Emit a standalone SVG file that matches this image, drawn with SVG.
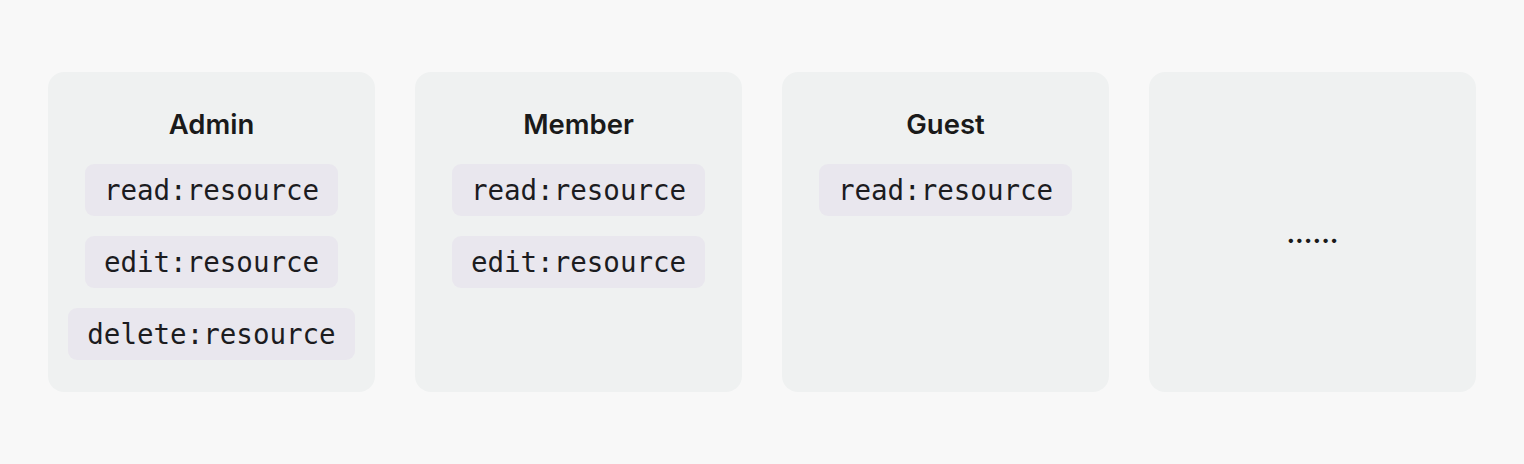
<svg xmlns="http://www.w3.org/2000/svg" width="1524" height="464" viewBox="0 0 1524 464">
<style>
.bg{fill:#f8f8f8}
.card{fill:#eff1f1}
.pill{fill:#e9e7ee}
.title{font-family:Inter,"Noto Sans","Liberation Sans",sans-serif;font-size:27.5px;font-weight:600;fill:#1a1a1a;text-anchor:middle}
.perm{font-family:"DejaVu Sans Mono","Liberation Mono",monospace;font-size:27.5px;fill:#1c1c1f;text-anchor:middle}
.dots{font-family:Inter,"Liberation Sans",sans-serif;font-size:26px;font-weight:700;fill:#1a1a1a;text-anchor:middle}
</style>
<rect class="bg" x="0" y="0" width="1524" height="464"/>
<g id="admin">
<rect class="card" x="48" y="72" width="327" height="320" rx="16"/>
<text class="title" x="211.5" y="134">Admin</text>
<rect class="pill" x="85" y="164" width="253" height="52" rx="9"/>
<text class="perm" x="211.5" y="200">read:resource</text>
<rect class="pill" x="85" y="236" width="253" height="52" rx="9"/>
<text class="perm" x="211.5" y="272">edit:resource</text>
<rect class="pill" x="68" y="308" width="287" height="52" rx="9"/>
<text class="perm" x="211.5" y="344">delete:resource</text>
</g>
<g id="member">
<rect class="card" x="415" y="72" width="327" height="320" rx="16"/>
<text class="title" x="578.5" y="134">Member</text>
<rect class="pill" x="452" y="164" width="253" height="52" rx="9"/>
<text class="perm" x="578.5" y="200">read:resource</text>
<rect class="pill" x="452" y="236" width="253" height="52" rx="9"/>
<text class="perm" x="578.5" y="272">edit:resource</text>
</g>
<g id="guest">
<rect class="card" x="782" y="72" width="327" height="320" rx="16"/>
<text class="title" x="945.5" y="134">Guest</text>
<rect class="pill" x="819" y="164" width="253" height="52" rx="9"/>
<text class="perm" x="945.5" y="200">read:resource</text>
</g>
<g id="more">
<rect class="card" x="1149" y="72" width="327" height="320" rx="16"/>
<text class="dots" x="1312.5" y="243">......</text>
</g>
<g id="connectors"/>
</svg>
